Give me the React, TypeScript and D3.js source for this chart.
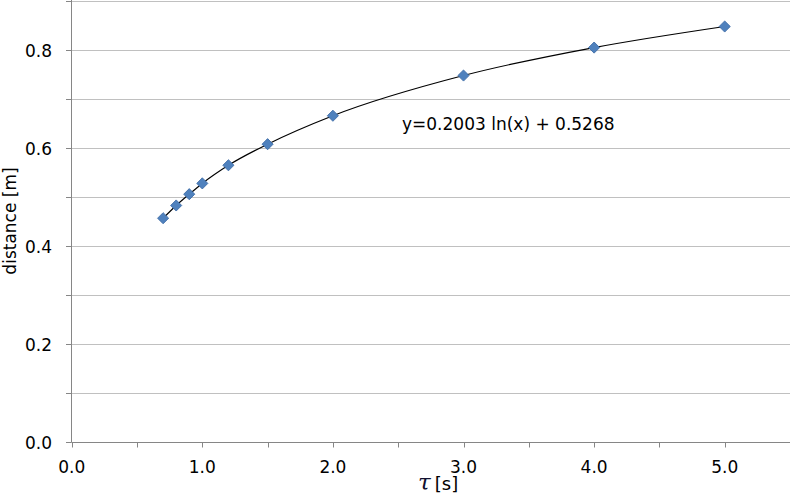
import React from 'react';
import * as d3 from 'd3';

// measured data points (tau in s, distance in m)
const tauValues = [0.7, 0.8, 0.9, 1.0, 1.2, 1.5, 2.0, 3.0, 4.0, 5.0];
const distanceValues = [0.457, 0.483, 0.506, 0.528, 0.565, 0.608, 0.666, 0.748, 0.805, 0.848];
const xTickValues = [0, 1, 2, 3, 4, 5];
const xMinorTicks = [0, 0.5, 1, 1.5, 2, 2.5, 3, 3.5, 4, 4.5, 5, 5.5];
const yTickValues = [0, 0.2, 0.4, 0.6, 0.8];
const yGridValues = [0, 0.1, 0.2, 0.3, 0.4, 0.5, 0.6, 0.7, 0.8, 0.9];
const equationLabel = 'y=0.2003 ln(x) + 0.5268';

const W = 790;
const H = 501;
const FONT = '"DejaVu Sans", Verdana, sans-serif';

const App: React.FC = () => {
  const x = d3.scaleLinear().domain([0, 5.5]).range([71.7, 790]);
  const y = d3.scaleLinear().domain([0, 0.9]).range([442.3, 1]);

  const points = tauValues.map((t, i) => ({ t, d: distanceValues[i] }));

  const line = d3.line<{ t: number; d: number }>()
    .x(p => x(p.t))
    .y(p => y(p.d))
    .curve(d3.curveMonotoneX);

  const diamond = d3.symbol(d3.symbolSquare, 62)();

  return (
    <svg width={W} height={H} style={{ position: 'absolute', left: 0, top: 0, background: '#fff' }}
      fontFamily={FONT}>
      {/* horizontal gridlines */}
      {yGridValues.filter(v => v > 0).map(v => (
        <line key={v} x1={x(0)} x2={W} y1={Math.round(y(v)) + 0.5} y2={Math.round(y(v)) + 0.5}
          stroke="#c0c0c0" strokeWidth={1} />
      ))}

      {/* y axis */}
      <line x1={71.5} x2={71.5} y1={0} y2={y(0)} stroke="#868686" strokeWidth={1} />
      {yGridValues.map(v => (
        <line key={v} x1={66} x2={71.5} y1={Math.round(y(v)) + 0.5} y2={Math.round(y(v)) + 0.5}
          stroke="#868686" strokeWidth={1} />
      ))}
      {yTickValues.map(v => (
        <text key={v} x={52} y={y(v) + 6.5} textAnchor="end" fontSize={17} fill="#000">
          {v.toFixed(1)}
        </text>
      ))}
      <text transform={`translate(16,221) rotate(-90)`} textAnchor="middle" fontSize={17} fill="#000">
        distance [m]
      </text>

      {/* x axis */}
      <line x1={71.5} x2={W} y1={442.5} y2={442.5} stroke="#868686" strokeWidth={1} />
      {xMinorTicks.map(v => (
        <line key={v} x1={Math.round(x(v)) + 0.5} x2={Math.round(x(v)) + 0.5} y1={442.5} y2={447.5}
          stroke="#868686" strokeWidth={1} />
      ))}
      {xTickValues.map(v => (
        <text key={v} x={x(v)} y={473} textAnchor="middle" fontSize={17} fill="#000">
          {v.toFixed(1)}
        </text>
      ))}
      <text x={418} y={490} fill="#000">
        <tspan fontSize={23} fontStyle="italic" fill="#101030" fontFamily='"DejaVu Serif", serif'>τ</tspan>
        <tspan fontSize={18} dx={4}>[s]</tspan>
      </text>

      {/* curve */}
      <path d={line(points) || ''} fill="none" stroke="#000" strokeWidth={1.2} />

      {/* markers */}
      {points.map((p, i) => (
        <path key={i} d={diamond || ''}
          transform={`translate(${x(p.t)},${y(p.d)}) rotate(45)`}
          fill="#4f81bd" stroke="#3c6aa5" strokeWidth={0.8} />
      ))}

      {/* equation */}
      <text x={402} y={130} fontSize={17} fill="#000">{equationLabel}</text>
    </svg>
  );
};

export default App;
